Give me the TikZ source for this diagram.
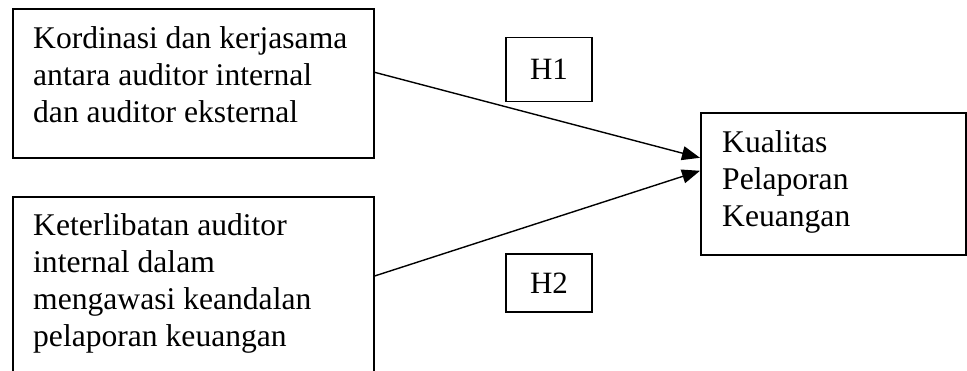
\documentclass[tikz,border=0pt]{standalone}
\usepackage{fontspec}
\setmainfont{Liberation Serif}
\usetikzlibrary{arrows.meta}
\begin{document}
\begin{tikzpicture}[x=1pt, y=-1pt,
    kotak/.style={draw, line width=1.6pt, rectangle, inner sep=0pt},
    teks/.style={inner sep=0pt, anchor=north west, align=left,
      font=\fontsize{31.6}{37}\selectfont},
    hipo/.style={kotak, line width=1.4pt, minimum width=86,
      font=\fontsize{31}{34}\selectfont},
    panah/.style={line width=1.4pt, -{Triangle[length=18pt, width=14pt]}}]
  \useasboundingbox (0, 0) rectangle (967, 371);
  \node [kotak, anchor=north west, minimum width=361, minimum height=149] (kord) at (12, 8) {};
  \node [teks] (kordteks) at (33, 26.4) {Kordinasi dan kerjasama\\antara auditor internal\\dan auditor eksternal};
  \node [kotak, anchor=north west, minimum width=361, minimum height=200] (ket) at (12, 196) {};
  \node [teks] (ketteks) at (33, 213.4) {Keterlibatan auditor\\internal dalam\\mengawasi keandalan\\pelaporan keuangan};
  \node [kotak, anchor=north west, minimum width=265, minimum height=142] (kual) at (700, 112) {};
  \node [teks] (kualteks) at (722, 130.4) {Kualitas\\Pelaporan\\Keuangan};
  \node [hipo, minimum height=64.5] (h1) at (549, 69.5) {H1};
  \node [hipo, minimum height=57.7] (h2) at (549, 283) {H2};
  \draw [panah] ([yshift=11pt]kord.east) -- ([yshift=26pt]kual.west);
  \draw [panah] ([yshift=-80pt]ket.north east) -- ([yshift=13pt]kual.west);
\end{tikzpicture}
\end{document}
